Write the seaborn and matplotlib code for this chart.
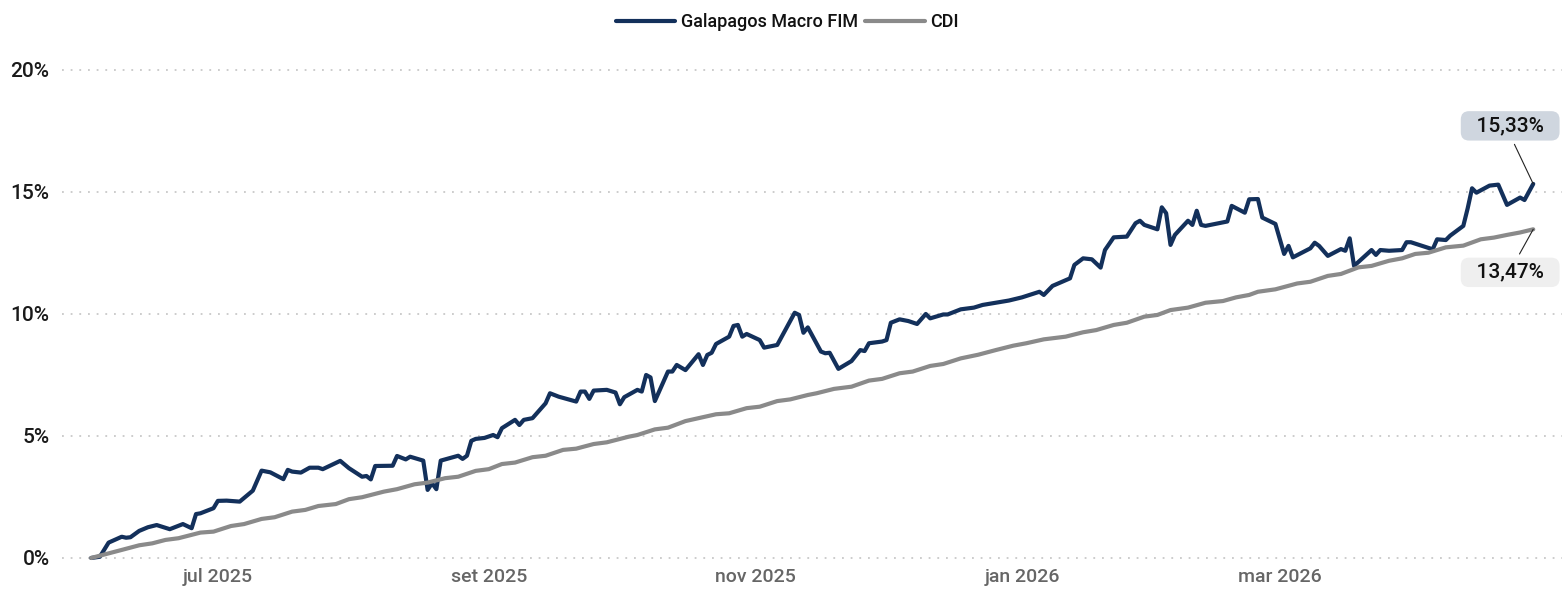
import pandas as pd
import matplotlib
matplotlib.use('Agg')
import matplotlib.pyplot as plt
import seaborn as sns

# dados (retorno acumulado, %)
fim_dates = [
    '2025-06-02', '2025-06-04', '2025-06-06', '2025-06-09', '2025-06-10', '2025-06-11', '2025-06-13',
    '2025-06-15', '2025-06-17', '2025-06-20', '2025-06-23', '2025-06-25', '2025-06-26', '2025-06-27',
    '2025-06-30', '2025-07-01', '2025-07-03', '2025-07-06', '2025-07-09', '2025-07-11', '2025-07-13',
    '2025-07-16', '2025-07-17', '2025-07-18', '2025-07-20', '2025-07-22', '2025-07-24', '2025-07-25',
    '2025-07-27', '2025-07-29', '2025-07-31', '2025-08-03', '2025-08-04', '2025-08-05', '2025-08-06',
    '2025-08-10', '2025-08-11', '2025-08-13', '2025-08-14', '2025-08-17', '2025-08-18', '2025-08-19',
    '2025-08-20', '2025-08-21', '2025-08-25', '2025-08-26', '2025-08-27', '2025-08-28', '2025-08-29',
    '2025-08-31', '2025-09-02', '2025-09-03', '2025-09-04', '2025-09-07', '2025-09-08', '2025-09-09',
    '2025-09-11', '2025-09-14', '2025-09-15', '2025-09-17', '2025-09-21', '2025-09-22', '2025-09-23',
    '2025-09-24', '2025-09-25', '2025-09-28', '2025-09-30', '2025-10-01', '2025-10-02', '2025-10-05',
    '2025-10-06', '2025-10-07', '2025-10-08', '2025-10-09', '2025-10-12', '2025-10-13', '2025-10-14',
    '2025-10-16', '2025-10-19', '2025-10-20', '2025-10-21', '2025-10-22', '2025-10-23', '2025-10-26',
    '2025-10-27', '2025-10-28', '2025-10-29', '2025-10-30', '2025-11-02', '2025-11-03', '2025-11-06',
    '2025-11-10', '2025-11-11', '2025-11-12', '2025-11-13', '2025-11-16', '2025-11-17', '2025-11-18',
    '2025-11-20', '2025-11-23', '2025-11-25', '2025-11-26', '2025-11-27', '2025-11-30', '2025-12-01',
    '2025-12-02', '2025-12-04', '2025-12-06', '2025-12-08', '2025-12-10', '2025-12-11', '2025-12-14',
    '2025-12-15', '2025-12-18', '2025-12-21', '2025-12-23', '2025-12-26', '2025-12-29', '2026-01-01',
    '2026-01-05', '2026-01-06', '2026-01-08', '2026-01-12', '2026-01-13', '2026-01-15', '2026-01-17',
    '2026-01-19', '2026-01-20', '2026-01-22', '2026-01-25', '2026-01-27', '2026-01-28', '2026-01-29',
    '2026-02-01', '2026-02-02', '2026-02-03', '2026-02-04', '2026-02-05', '2026-02-08', '2026-02-09',
    '2026-02-10', '2026-02-11', '2026-02-12', '2026-02-17', '2026-02-18', '2026-02-21', '2026-02-22',
    '2026-02-24', '2026-02-25', '2026-02-28', '2026-03-02', '2026-03-03', '2026-03-04', '2026-03-08',
    '2026-03-09', '2026-03-10', '2026-03-12', '2026-03-15', '2026-03-16', '2026-03-17', '2026-03-18',
    '2026-03-22', '2026-03-23', '2026-03-24', '2026-03-26', '2026-03-29', '2026-03-30', '2026-03-31',
    '2026-04-05', '2026-04-06', '2026-04-08', '2026-04-09', '2026-04-12', '2026-04-13', '2026-04-14',
    '2026-04-15', '2026-04-18', '2026-04-20', '2026-04-22', '2026-04-25', '2026-04-26', '2026-04-28',
]
fim_values = [
    0.00, 0.05, 0.63, 0.87, 0.83, 0.85, 1.11,
    1.26, 1.35, 1.18, 1.39, 1.22, 1.80, 1.83,
    2.04, 2.34, 2.35, 2.31, 2.76, 3.58, 3.51,
    3.23, 3.61, 3.54, 3.50, 3.70, 3.70, 3.64,
    3.81, 3.98, 3.68, 3.33, 3.36, 3.22, 3.77,
    3.78, 4.18, 4.04, 4.15, 3.99, 2.79, 3.06,
    2.82, 3.99, 4.19, 4.06, 4.19, 4.80, 4.88,
    4.92, 5.04, 4.95, 5.32, 5.66, 5.45, 5.66,
    5.73, 6.34, 6.75, 6.61, 6.41, 6.82, 6.82,
    6.52, 6.86, 6.89, 6.78, 6.30, 6.59, 6.89,
    6.82, 7.50, 7.40, 6.43, 7.64, 7.64, 7.91,
    7.70, 8.35, 7.91, 8.32, 8.41, 8.77, 9.07,
    9.51, 9.55, 9.07, 9.18, 8.93, 8.62, 8.73,
    10.05, 9.96, 9.23, 9.45, 8.46, 8.39, 8.41,
    7.75, 8.07, 8.52, 8.48, 8.80, 8.87, 8.93,
    9.64, 9.78, 9.71, 9.59, 10.00, 9.82, 9.98,
    9.98, 10.19, 10.26, 10.37, 10.46, 10.55, 10.68,
    10.91, 10.78, 11.15, 11.46, 12.01, 12.28, 12.24,
    11.90, 12.62, 13.14, 13.17, 13.72, 13.82, 13.65,
    13.47, 14.37, 14.13, 12.83, 13.24, 13.82, 13.65,
    14.23, 13.65, 13.61, 13.79, 14.43, 14.15, 14.70,
    14.71, 13.95, 13.69, 12.46, 12.79, 12.32, 12.69,
    12.92, 12.79, 12.38, 12.66, 12.59, 13.10, 11.97,
    12.62, 12.42, 12.62, 12.59, 12.62, 12.94, 12.94,
    12.65, 13.06, 13.03, 13.21, 13.61, 14.33, 15.15,
    14.97, 15.26, 15.30, 14.47, 14.77, 14.67, 15.33,
]

cdi_dates = [
    '2025-06-02', '2025-06-09', '2025-06-13', '2025-06-16', '2025-06-19', '2025-06-22', '2025-06-27',
    '2025-06-30', '2025-07-04', '2025-07-07', '2025-07-11', '2025-07-14', '2025-07-18', '2025-07-21',
    '2025-07-24', '2025-07-28', '2025-07-31', '2025-08-03', '2025-08-08', '2025-08-11', '2025-08-15',
    '2025-08-18', '2025-08-22', '2025-08-25', '2025-08-29', '2025-09-01', '2025-09-04', '2025-09-07',
    '2025-09-11', '2025-09-14', '2025-09-18', '2025-09-21', '2025-09-25', '2025-09-28', '2025-10-03',
    '2025-10-05', '2025-10-09', '2025-10-12', '2025-10-16', '2025-10-19', '2025-10-23', '2025-10-26',
    '2025-10-30', '2025-11-02', '2025-11-06', '2025-11-09', '2025-11-13', '2025-11-15', '2025-11-19',
    '2025-11-23', '2025-11-27', '2025-11-30', '2025-12-04', '2025-12-07', '2025-12-11', '2025-12-14',
    '2025-12-18', '2025-12-22', '2025-12-26', '2025-12-30', '2026-01-02', '2026-01-06', '2026-01-11',
    '2026-01-15', '2026-01-18', '2026-01-22', '2026-01-25', '2026-01-29', '2026-02-01', '2026-02-04',
    '2026-02-08', '2026-02-12', '2026-02-16', '2026-02-19', '2026-02-22', '2026-02-24', '2026-02-28',
    '2026-03-05', '2026-03-08', '2026-03-12', '2026-03-15', '2026-03-19', '2026-03-22', '2026-03-26',
    '2026-03-29', '2026-04-01', '2026-04-04', '2026-04-08', '2026-04-12', '2026-04-16', '2026-04-19',
    '2026-04-22', '2026-04-25', '2026-04-28',
]
cdi_values = [
    0.00, 0.33, 0.52, 0.60, 0.74, 0.81, 1.04,
    1.08, 1.31, 1.39, 1.60, 1.67, 1.90, 1.97,
    2.13, 2.21, 2.41, 2.49, 2.72, 2.82, 3.02,
    3.09, 3.27, 3.33, 3.57, 3.64, 3.85, 3.91,
    4.13, 4.19, 4.43, 4.48, 4.67, 4.74, 4.97,
    5.04, 5.27, 5.34, 5.61, 5.73, 5.89, 5.93,
    6.14, 6.20, 6.43, 6.50, 6.68, 6.75, 6.93,
    7.02, 7.27, 7.34, 7.57, 7.64, 7.87, 7.95,
    8.18, 8.33, 8.52, 8.70, 8.80, 8.96, 9.07,
    9.25, 9.34, 9.55, 9.64, 9.89, 9.96, 10.16,
    10.26, 10.46, 10.53, 10.68, 10.78, 10.91, 11.01,
    11.25, 11.32, 11.56, 11.64, 11.91, 11.97, 12.18,
    12.28, 12.46, 12.51, 12.73, 12.80, 13.06, 13.13,
    13.24, 13.34, 13.47,
]

series_names = ['Galapagos Macro FIM', 'CDI']
series_colors = ['#13305b', '#8a8a8a']

tick_dates = ['2025-07-01', '2025-09-01', '2025-11-01', '2026-01-01', '2026-03-01']
tick_labels = ['jul 2025', 'set 2025', 'nov 2025', 'jan 2026', 'mar 2026']
y_ticks = [0, 5, 10, 15, 20]

# montar tabela longa
df = pd.concat([
    pd.DataFrame({'data': pd.to_datetime(fim_dates), 'retorno': fim_values, 'serie': series_names[0]}),
    pd.DataFrame({'data': pd.to_datetime(cdi_dates), 'retorno': cdi_values, 'serie': series_names[1]}),
], ignore_index=True)

sns.set_theme(style='white')
plt.rcParams['font.family'] = ['Roboto', 'DejaVu Sans']
plt.rcParams['font.weight'] = 'medium'

fig = plt.figure(figsize=(15.64, 5.9), dpi=100)
ax = fig.add_axes([62 / 1564, 0.046, 1500 / 1564, 0.8437])

sns.lineplot(data=df, x='data', y='retorno', hue='serie', hue_order=series_names,
             palette=series_colors, linewidth=3.0, ax=ax, legend=True)

ax.set_xlim(pd.Timestamp('2025-05-26 08:00'), pd.Timestamp('2026-05-04 14:00'))
ax.set_ylim(-0.2, 20.2)

ax.set_yticks(y_ticks)
ax.set_yticklabels([f'{v}%' for v in y_ticks], fontsize=15, color='#1a1a1a')
ax.set_xticks(pd.to_datetime(tick_dates))
ax.set_xticklabels(tick_labels, fontsize=14, color='#666666')
ax.tick_params(axis='both', length=0)
ax.tick_params(axis='y', pad=9)
ax.tick_params(axis='x', pad=4)
ax.set_xlabel('')
ax.set_ylabel('')

ax.grid(axis='y', color='#c8c8c8', linestyle=(0, (1, 3.8)), linewidth=1.3)
ax.grid(axis='x', visible=False)
for s in ax.spines.values():
    s.set_visible(False)

# legenda no topo
handles, labels = ax.get_legend_handles_labels()
ax.get_legend().remove()
leg = fig.legend(handles, labels, loc='center', bbox_to_anchor=(787 / 1564, 1 - 22 / 590),
                 ncol=2, frameon=False, fontsize=13, handlelength=3.3, handletextpad=0.3,
                 columnspacing=0.4)
for t in leg.get_texts():
    t.set_color('#111111')

# rótulos dos últimos valores
last_fim = (pd.Timestamp(fim_dates[-1]), fim_values[-1])
last_cdi = (pd.Timestamp(cdi_dates[-1]), cdi_values[-1])
ax.annotate('  ' + f'{fim_values[-1]:.2f}'.replace('.', ',') + '%  ', xy=last_fim,
            xytext=(-16.6, 41.8), textcoords='offset points', ha='center', va='center',
            fontsize=15, color='#111111',
            bbox=dict(boxstyle='round,pad=0.25,rounding_size=0.4', fc='#cfd6df', ec='none'),
            arrowprops=dict(arrowstyle='-', color='#222222', lw=0.8, relpos=(0.5, 0),
                            shrinkA=3, shrinkB=0))
ax.annotate('  ' + f'{cdi_values[-1]:.2f}'.replace('.', ',') + '%  ', xy=last_cdi,
            xytext=(-16.6, -31), textcoords='offset points', ha='center', va='center',
            fontsize=15, color='#111111',
            bbox=dict(boxstyle='round,pad=0.25,rounding_size=0.4', fc='#efefef', ec='none'),
            arrowprops=dict(arrowstyle='-', color='#222222', lw=0.8, relpos=(0.55, 1),
                            shrinkA=3, shrinkB=0))

fig.savefig('out.png', dpi=100)
